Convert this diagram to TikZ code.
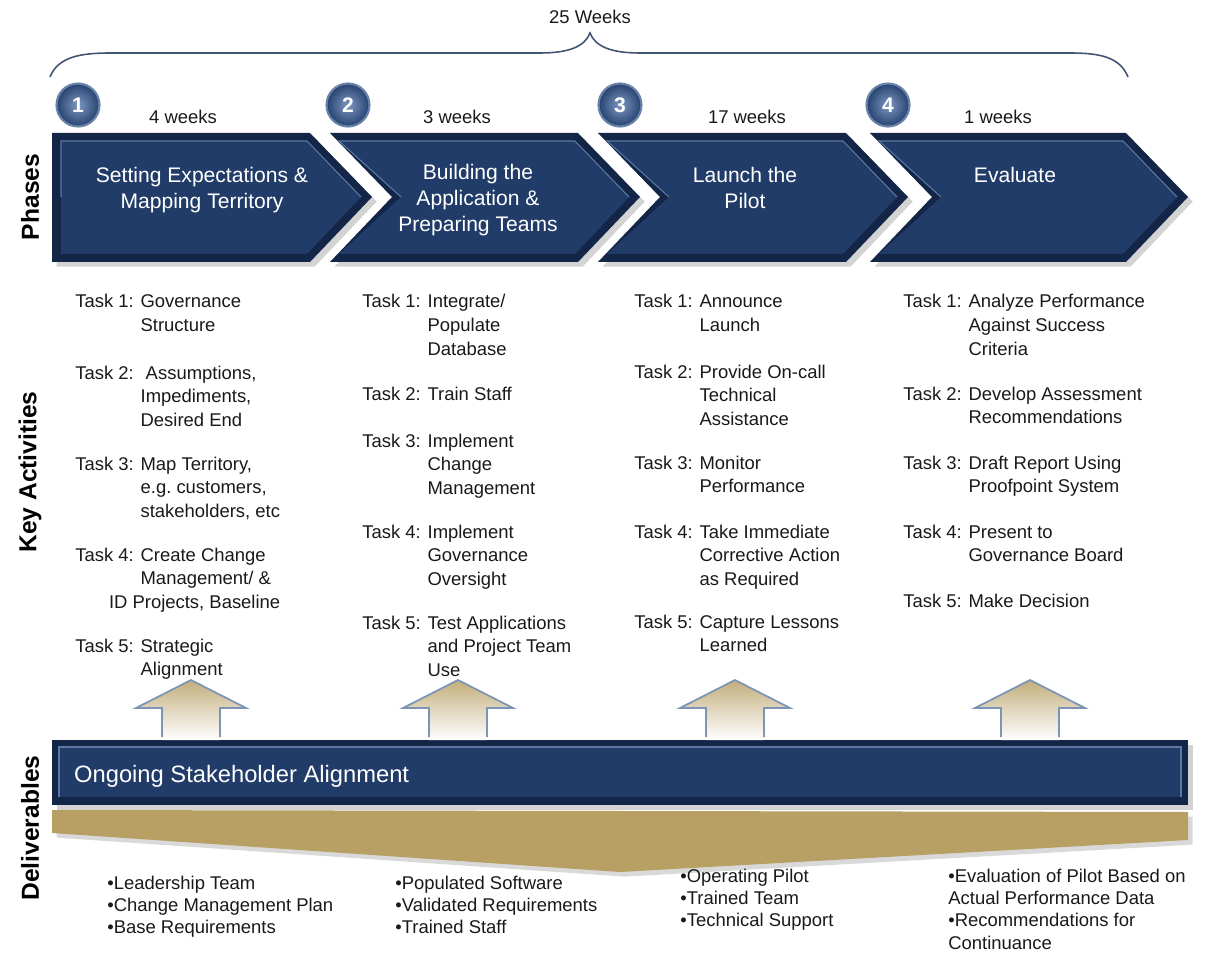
\documentclass[tikz,border=0pt]{standalone}
\usepackage{fontspec}
\setmainfont{Liberation Sans}
\usetikzlibrary{shadows}

\definecolor{navy}{RGB}{33,60,104}
\definecolor{navyedge}{RGB}{20,38,72}
\definecolor{navyline}{RGB}{92,120,162}
\definecolor{gold}{RGB}{184,160,100}
\definecolor{arrowline}{RGB}{125,148,182}
\definecolor{bracecol}{RGB}{65,85,115}
\definecolor{txt}{RGB}{25,25,25}

\newcommand{\tasklines}[2]{Task #1: \begin{tabular}[t]{@{}l@{}}#2\end{tabular}}
\newcommand{\itemlines}[1]{\begin{tabular}[t]{@{}l@{}}#1\end{tabular}}

\tikzset{
  task/.style={anchor=base west, inner sep=0pt, text=txt, font=\fontsize{10.5}{13.5}\selectfont},
  deliv/.style={anchor=base west, inner sep=0pt, text=txt, font=\fontsize{10.5}{12.8}\selectfont},
  weeks/.style={inner sep=0pt, text=txt, font=\fontsize{10.5}{12}\selectfont},
  phase/.style={align=center, text=white, font=\fontsize{12}{14.7}\selectfont},
  side/.style={rotate=90, text=black, font=\fontsize{14}{16}\selectfont\bfseries},
  numball/.style={circle, minimum size=0.86cm, inner sep=0pt, inner color={rgb,255:red,125;green,152;blue,192},
    outer color={rgb,255:red,38;green,66;blue,112}, draw={rgb,255:red,105;green,130;blue,168}, line width=1.2pt,
    text=white, font=\fontsize{12}{12}\selectfont\bfseries},
}

\begin{document}
\begin{tikzpicture}[x=0.02cm, y=-0.02cm]
	\useasboundingbox (0,0) rectangle (1205,953);

	% overall brace
	\draw[bracecol, line width=0.9pt] (50,77) .. controls (58,57) and (80,53) .. (110,53) -- (540,53)
		.. controls (570,53) and (585,46) .. (590,33) .. controls (595,46) and (610,53) .. (640,53)
		-- (1070,53) .. controls (1100,53) and (1120,57) .. (1128,77);
	\node[weeks] (total) at (590,17) {25 Weeks};

	% phase chevrons
	\foreach \n/\xl/\xr/\nt in {1/52/310/0, 2/330/578/62, 3/598/846/62, 4/870/1126/62} {
		\fill[navyedge, drop shadow={opacity=0.35}] (\xl,133) -- (\xr,133) -- ({\xr+62},197) -- (\xr,262)
			-- (\xl,262) -- ({\xl+\nt},197) -- cycle;
		\fill[navy] ({\xl+9},141) -- ({\xr-3},141) -- ({\xr+51},197) -- ({\xr-3},254)
			-- ({\xl+9},254) -- ({\xl+\nt+9},197) -- cycle;
		\draw[navyline, line width=0.6pt] ({\xl+\nt+9},197) -- ({\xl+9},141) -- ({\xr-3},141) -- ({\xr+51},197);
	}

	\foreach \n/\bx/\wx/\w in {1/78/183/4, 2/348/457/3, 3/620/747/17, 4/888/998/1} {
		\node[numball] (ball\n) at (\bx,105) {\n};
		\node[weeks] (weeks\n) at (\wx,117) {\w\ weeks};
	}

	\node[phase] (phase1) at (202,190) {Setting Expectations \&\\Mapping Territory};
	\node[phase] (phase2) at (478,200) {Building the\\Application \&\\Preparing Teams};
	\node[phase] (phase3) at (745,188) {Launch the\\Pilot};
	\node[phase] (phase4) at (1015,175) {Evaluate};

	% side labels
	\node[side] (lphases) at (30,197) {Phases};
	\node[side] (lactivities) at (30,472) {Key Activities};
	\node[side] (ldeliverables) at (30,828) {Deliverables};

	% key activities
	\node[task] (a1) at (75,308) {\tasklines{1}{Governance\\Structure}};
	\node[task] (a2) at (75,379) {\tasklines{2}{\ Assumptions,\\Impediments,\\Desired End}};
	\node[task] (a3) at (75,470) {\tasklines{3}{Map Territory,\\e.g.\ customers,\\stakeholders, etc}};
	\node[task] (a4) at (75,561) {\tasklines{4}{Create Change\\Management/ \&\\\hspace*{-18pt}ID Projects, Baseline}};
	\node[task] (a5) at (75,652) {\tasklines{5}{Strategic\\Alignment}};

	\node[task] (b1) at (362,308) {\tasklines{1}{Integrate/\\Populate\\Database}};
	\node[task] (b2) at (362,400) {\tasklines{2}{Train Staff}};
	\node[task] (b3) at (362,447) {\tasklines{3}{Implement\\Change\\Management}};
	\node[task] (b4) at (362,538) {\tasklines{4}{Implement\\Governance\\Oversight}};
	\node[task] (b5) at (362,629) {\tasklines{5}{Test Applications\\and Project Team\\Use}};

	\node[task] (c1) at (634,308) {\tasklines{1}{Announce\\Launch}};
	\node[task] (c2) at (634,378) {\tasklines{2}{Provide On-call\\Technical\\Assistance}};
	\node[task] (c3) at (634,469) {\tasklines{3}{Monitor\\Performance}};
	\node[task] (c4) at (634,538) {\tasklines{4}{Take Immediate\\Corrective Action\\as Required}};
	\node[task] (c5) at (634,628) {\tasklines{5}{Capture Lessons\\Learned}};

	\node[task] (d1) at (903,308) {\tasklines{1}{Analyze Performance\\Against Success\\Criteria}};
	\node[task] (d2) at (903,400) {\tasklines{2}{Develop Assessment\\Recommendations}};
	\node[task] (d3) at (903,469) {\tasklines{3}{Draft Report Using\\Proofpoint System}};
	\node[task] (d4) at (903,538) {\tasklines{4}{Present to\\Governance Board}};
	\node[task] (d5) at (903,607) {\tasklines{5}{Make Decision}};

	% deliverables band and bar
	\fill[gold, drop shadow={opacity=0.3}] (52,810) -- (1188,812) -- (1188,840) -- (620,872) -- (52,833) -- cycle;
	\fill[navyedge, drop shadow={opacity=0.35}] (52,740) rectangle (1188,805);
	\fill[navy] (59,747) rectangle (1181,797);
	\draw[navyline, line width=0.6pt] (59,797) -- (59,747) -- (1181,747) -- (1181,797);
	\node[anchor=west, text=white, font=\fontsize{13.5}{16}\selectfont] (stake) at (68,776) {Ongoing Stakeholder Alignment};

	% up arrows
	\foreach \ax in {191,458,735,1030} {
		\shade[top color=gold!85, bottom color=white] (\ax,680) -- ({\ax+55},708) -- ({\ax+29},708) -- ({\ax+29},740)
			-- ({\ax-29},740) -- ({\ax-29},708) -- ({\ax-55},708) -- cycle;
		\draw[arrowline, line width=1pt] ({\ax-29},737) -- ({\ax-29},708) -- ({\ax-55},708) -- (\ax,680)
			-- ({\ax+55},708) -- ({\ax+29},708) -- ({\ax+29},737);
	}

	% deliverable lists
	\node[deliv] (e1) at (107,889) {\itemlines{•Leadership Team\\•Change Management Plan\\•Base Requirements}};
	\node[deliv] (e2) at (395,889) {\itemlines{•Populated Software\\•Validated Requirements\\•Trained Staff}};
	\node[deliv] (e3) at (680,882) {\itemlines{•Operating Pilot\\•Trained Team\\•Technical Support}};
	\node[deliv] (e4) at (948,882) {\itemlines{•Evaluation of Pilot Based on\\Actual Performance Data\\•Recommendations for\\Continuance}};
\end{tikzpicture}
\end{document}
